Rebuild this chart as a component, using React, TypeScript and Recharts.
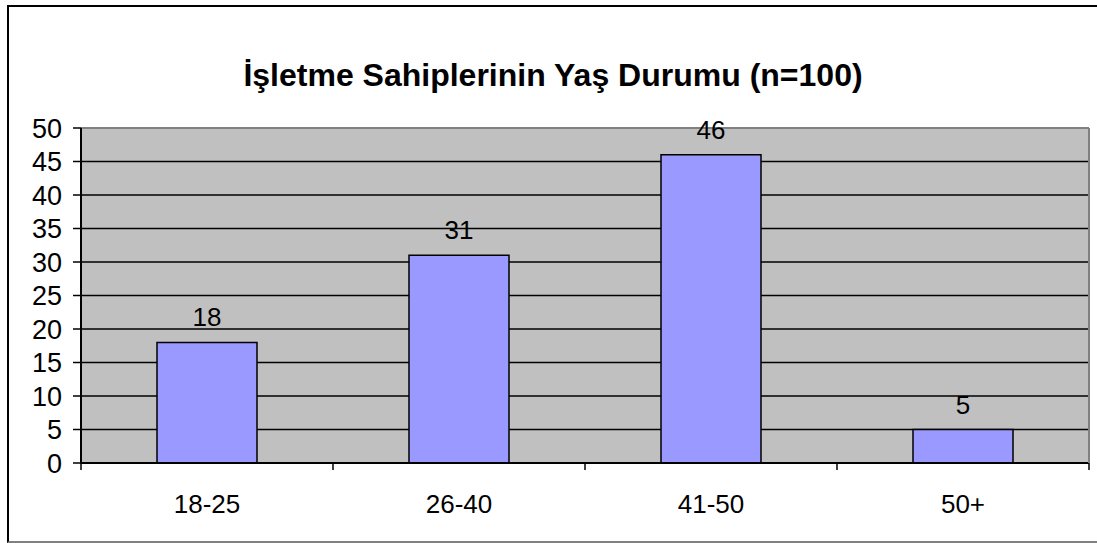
import {
  Bar,
  BarChart,
  CartesianGrid,
  LabelList,
  ReferenceLine,
  XAxis,
  YAxis,
} from "recharts";

const ageGroups = ["18-25", "26-40", "41-50", "50+"];
const ownerCounts = [18, 31, 46, 5];
const yTicks = [0, 5, 10, 15, 20, 25, 30, 35, 40, 45, 50];

const chartData = ageGroups.map((group, i) => ({ group, count: ownerCounts[i] }));

const FONT = "'Liberation Sans', Arial, sans-serif";
const W = 1097;
const H = 543;
const MARGIN = { top: 128, right: 7, bottom: 0, left: 21 };
const Y_AXIS_W = 60;
const LABEL_GAP = 32;
const band = (W - MARGIN.left - MARGIN.right - Y_AXIS_W - 1) / ageGroups.length;

// category label plus the Excel-style tick marks between categories
function CategoryTick(props: any) {
  const { x, y, payload, index } = props;
  const axisY = y - LABEL_GAP;
  const half = band / 2;
  return (
    <g>
      <line x1={x - half} x2={x - half} y1={axisY} y2={axisY + 7} stroke="#000" strokeWidth={1.5} />
      {index === ageGroups.length - 1 && (
        <line x1={x + half} x2={x + half} y1={axisY} y2={axisY + 7} stroke="#000" strokeWidth={1.5} />
      )}
      <text x={x} y={y} dy="0.71em" textAnchor="middle" fill="#000" fontSize={26} fontFamily={FONT}>
        {payload.value}
      </text>
    </g>
  );
}

export default function App() {
  return (
    <div
      style={{
        position: "absolute",
        left: 0,
        top: 0,
        width: W,
        height: H,
        overflow: "hidden",
        background: "#fff",
        fontFamily: FONT,
      }}
    >
      <div
        style={{
          position: "absolute",
          left: 7,
          top: 5,
          width: 1110,
          height: 534,
          borderTop: "2px solid #000",
          borderLeft: "2px solid #000",
          borderBottom: "2px solid #808080",
        }}
      />
      <div
        style={{
          position: "absolute",
          left: 0,
          top: 55,
          width: 1106,
          textAlign: "center",
          fontSize: 32,
          fontWeight: "bold",
          color: "#000",
          lineHeight: "40px",
        }}
      >
        İşletme Sahiplerinin Yaş Durumu (n=100)
      </div>
      <div style={{ position: "absolute", left: 0, top: 0 }}>
        <BarChart width={W} height={H} data={chartData} margin={MARGIN}>
          <CartesianGrid
            yAxisId="left"
            vertical={false}
            stroke="#000"
            strokeWidth={1.5}
            fill="#C0C0C0"
            fillOpacity={1}
          />
          <XAxis
            dataKey="group"
            height={80}
            interval={0}
            axisLine={{ stroke: "#000", strokeWidth: 2 }}
            tickLine={false}
            tickSize={0}
            tickMargin={LABEL_GAP}
            tick={<CategoryTick />}
          />
          <YAxis
            yAxisId="left"
            width={Y_AXIS_W}
            domain={[0, 50]}
            ticks={yTicks}
            interval={0}
            axisLine={{ stroke: "#000", strokeWidth: 2 }}
            tickLine={{ stroke: "#000", strokeWidth: 1.5 }}
            tickSize={8}
            tickMargin={11}
            tick={{ fill: "#000", fontSize: 27, fontFamily: FONT }}
          />
          <YAxis
            yAxisId="right"
            orientation="right"
            width={1}
            domain={[0, 50]}
            tick={false}
            tickLine={false}
            axisLine={{ stroke: "#808080", strokeWidth: 2 }}
          />
          <ReferenceLine y={50} yAxisId="left" stroke="#808080" strokeWidth={2} />
          <Bar
            dataKey="count"
            yAxisId="left"
            barSize={100}
            fill="#9999FF"
            stroke="#000"
            strokeWidth={1.5}
            isAnimationActive={false}
          >
            <LabelList
              dataKey="count"
              position="top"
              offset={16}
              fill="#000"
              fontSize={26}
              fontFamily={FONT}
            />
          </Bar>
        </BarChart>
      </div>
    </div>
  );
}
